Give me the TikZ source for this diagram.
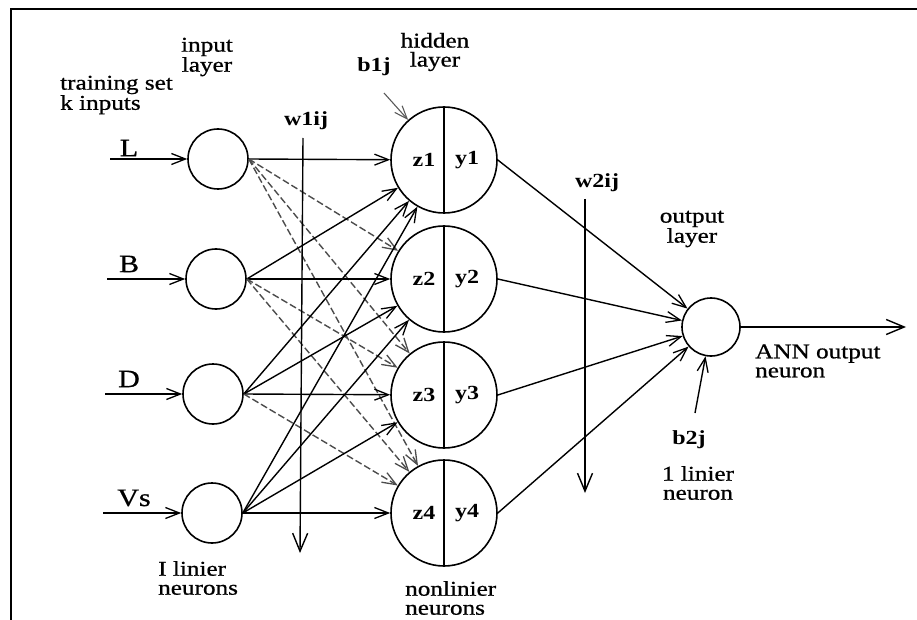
\documentclass[tikz,border=0pt]{standalone}
\usepackage{fontspec}
\setmainfont[FakeStretch=1.2]{Liberation Serif}
\newfontfamily\heavyfont[FakeStretch=1.2,FakeBold=0.8]{Liberation Serif}
\usetikzlibrary{arrows.meta}
\begin{document}
\begin{tikzpicture}[x=1pt,y=-1pt,
  inneur/.style={circle, draw, line width=1.6pt, minimum size=60pt, inner sep=0pt},
  hidneur/.style={circle, draw, line width=1.6pt, minimum size=106pt, inner sep=0pt},
  outneur/.style={circle, draw, line width=1.6pt, minimum size=58pt, inner sep=0pt},
  lbl/.style={font=\heavyfont\fontsize{21}{19}\selectfont, inner sep=0pt, align=center},
  big/.style={font=\heavyfont\fontsize{25}{25}\selectfont, inner sep=0pt},
  bl/.style={font=\bfseries\fontsize{20}{20}\selectfont, inner sep=0pt},
  conn/.style={line width=1.4pt, -{Straight Barb[length=14pt,width=11pt,line width=1.3pt]}},
  dconn/.style={conn, draw=black!70, dash pattern=on 7pt off 3pt},
  bconn/.style={line width=1.1pt, draw=black!65, -{Straight Barb[length=13pt,width=10pt,line width=1.1pt]}},
  bigconn/.style={line width=1.4pt, -{Straight Barb[length=18pt,width=15pt,line width=1.4pt]}}
]
\useasboundingbox (0,0) rectangle (917,620);
% frame
\coordinate (fa) at (11,620);
\coordinate (fb) at (11,9);
\coordinate (fc) at (917,9);
\draw[line width=2.5pt] (fa) -- (fb) -- (fc);

% input neurons
\node[inneur] (L) at (218,159) {};
\node[inneur] (B) at (216,279) {};
\node[inneur] (D) at (213,394) {};
\node[inneur] (V) at (212,513) {};
% hidden neurons
\node[hidneur] (H1) at (444,160) {};
\node[hidneur] (H2) at (444,279) {};
\node[hidneur] (H3) at (444,395) {};
\node[hidneur] (H4) at (444,513) {};
\foreach \h in {H1,H2,H3,H4} \draw[line width=1.3pt] (\h.north) -- (\h.south);
\node[bl] (z1) at (424,160) {z1};
\node[bl] (y1) at (467,160) {y1};
\node[bl] (z2) at (424,279) {z2};
\node[bl] (y2) at (467,279) {y2};
\node[bl] (z3) at (424,395) {z3};
\node[bl] (y3) at (467,395) {y3};
\node[bl] (z4) at (424,513) {z4};
\node[bl] (y4) at (467,513) {y4};
% output neuron
\node[outneur] (O) at (711,327) {};

% input arrows
\coordinate (sL) at (110,159);
\coordinate (sB) at (107,279);
\coordinate (sD) at (105,394);
\coordinate (sV) at (103,513);
\draw[conn] (sL) -- (L);
\draw[conn] (sB) -- (B);
\draw[conn] (sD) -- (D);
\draw[conn] (sV) -- (V);

% input to hidden
\draw[conn] (L.east) -- (H1);
\draw[dconn] (L.east) -- (H2);
\draw[dconn] (L.east) -- (H3);
\draw[dconn] (L.east) -- (H4);
\draw[conn] (B.east) -- (H1);
\draw[conn] (B.east) -- (H2);
\draw[dconn] (B.east) -- (H3);
\draw[dconn] (B.east) -- (H4);
\draw[conn] (D.east) -- (H1);
\draw[conn] (D.east) -- (H2);
\draw[conn] (D.east) -- (H3);
\draw[dconn] (D.east) -- (H4);
\draw[conn] (V.east) -- (H1);
\draw[conn] (V.east) -- (H2);
\draw[conn] (V.east) -- (H3);
\draw[conn] (V.east) -- (H4);

% hidden to output
\draw[conn] (H1.east) -- (O);
\draw[conn] (H2.east) -- (O);
\draw[conn] (H3.east) -- (O);
\draw[conn] (H4.east) -- (O);

% output arrow
\coordinate (oe) at (906,327);
\draw[bigconn] (O) -- (oe);

% weight lines
\coordinate (w1t) at (303,138);
\coordinate (w1b) at (300,553);
\draw[bigconn] (w1t) -- (w1b);
\coordinate (w2t) at (585,199);
\coordinate (w2b) at (585,493);
\draw[bigconn] (w2t) -- (w2b);

% biases
\coordinate (b1s) at (384,93);
\draw[bconn] (b1s) -- (H1);
\coordinate (b2s) at (695,413);
\draw[conn] (b2s) -- (O);

% labels
\node[lbl, align=left, anchor=west] (ts) at (60,95) {training set\\k inputs};
\node[lbl] (il) at (207,57) {input\\layer};
\node[lbl] (hl) at (435,52) {hidden\\layer};
\node[bl] (b1) at (374,67) {b1j};
\node[bl] (w1) at (306,121) {w1ij};
\node[bl] (w2) at (597,183) {w2ij};
\node[lbl] (ol) at (692,229) {output\\layer};
\node[lbl, align=left, anchor=west] (ann) at (755,361) {ANN output\\neuron};
\node[bl] (b2) at (689,440) {b2j};
\node[lbl] (ln) at (698,483) {1 linier\\neuron};
\node[lbl, align=left, anchor=west] (lns) at (158,578) {I linier\\neurons};
\node[lbl, align=left, anchor=west] (nln) at (405,598) {nonlinier\\neurons};
\node[big] (tL) at (129,148) {L};
\node[big] (tB) at (129,264) {B};
\node[big] (tD) at (129,379) {D};
\node[big] (tV) at (134,498) {Vs};
\end{tikzpicture}
\end{document}
